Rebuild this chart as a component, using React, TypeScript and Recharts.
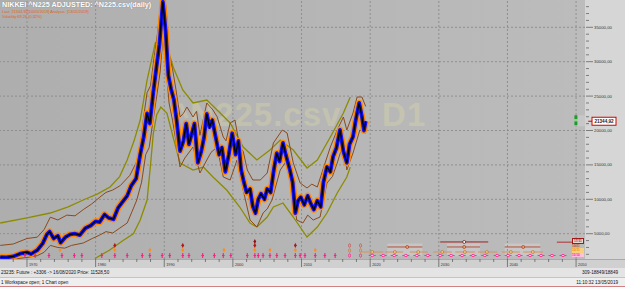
import { ComposedChart, Line, XAxis, YAxis, ReferenceLine, ReferenceDot, ReferenceArea } from 'recharts'

const FONT = '"Liberation Sans", Arial, sans-serif'
const PLOT_W = 585
const PLOT_H = 259
const X_DOMAIN: [number, number] = [1966.07, 2051.3]
const Y_DOMAIN: [number, number] = [1323, 38968]

// Nikkei close [year, value]
const PRICE: [number, number][] = [
  [1966.1, 1600], [1967.0, 1550], [1968.0, 1700], [1969.0, 2100], [1970.0, 2300], [1970.6, 2050],
  [1971.5, 2600], [1972.3, 3600], [1972.9, 4900], [1973.3, 5300], [1973.9, 4300], [1974.5, 4700],
  [1974.9, 3700], [1975.6, 4500], [1976.3, 4900], [1977.0, 5000], [1977.7, 4800], [1978.5, 5800],
  [1979.3, 6200], [1980.0, 6800], [1980.6, 6700], [1981.3, 7800], [1981.9, 7300], [1982.6, 7100],
  [1983.3, 8800], [1983.9, 9600], [1984.6, 10500], [1985.2, 12000], [1985.9, 13000], [1986.5, 16500],
  [1987.0, 19000], [1987.5, 22500], [1987.9, 21000], [1988.4, 25500], [1988.9, 29500], [1989.3, 32500],
  [1989.8, 38700], [1990.2, 34500], [1990.6, 28000], [1991.0, 26000], [1991.4, 24500], [1991.8, 21500],
  [1992.3, 17000], [1992.8, 18500], [1993.2, 21000], [1993.6, 18000], [1994.0, 19500], [1994.4, 21000],
  [1994.9, 15300], [1995.4, 17000], [1995.8, 19000], [1996.2, 22400], [1996.6, 20500], [1997.0, 21500],
  [1997.5, 19000], [1998.0, 16500], [1998.4, 17500], [1998.9, 14000], [1999.4, 16500], [1999.9, 19600],
  [2000.4, 16500], [2000.8, 18500], [2001.2, 14300], [2001.6, 12500], [2002.0, 11000], [2002.5, 11500],
  [2002.9, 9000], [2003.3, 8000], [2003.7, 10000], [2004.1, 10800], [2004.6, 10000], [2005.0, 11500],
  [2005.5, 11000], [2006.0, 14500], [2006.4, 16700], [2006.8, 15500], [2007.3, 18200], [2007.7, 16500],
  [2008.3, 14300], [2008.7, 12500], [2009.1, 8000], [2009.5, 9800], [2009.9, 10300], [2010.4, 9200],
  [2010.9, 10500], [2011.3, 9500], [2011.8, 8500], [2012.3, 9800], [2012.8, 8900], [2013.2, 12500],
  [2013.7, 14700], [2014.2, 14000], [2014.6, 16200], [2015.1, 17500], [2015.6, 20100], [2016.1, 17000],
  [2016.6, 15300], [2017.0, 18000], [2017.5, 19100], [2017.9, 21500], [2018.4, 24000], [2018.8, 22000],
  [2019.1, 20000], [2019.35, 21344],
]
const LAST_PRICE = 21344.92

const BROWN_UP: [number, number][] = [
  [1966.1, 3300], [1968.0, 3500], [1970.0, 4300], [1971.5, 4500], [1972.5, 5600], [1973.4, 7400],
  [1974.5, 7000], [1975.8, 7700], [1977.0, 7600], [1978.2, 8500], [1979.4, 9300], [1980.6, 10300],
  [1981.5, 11000], [1982.5, 11350], [1983.6, 12000], [1985.0, 13500], [1986.0, 15500], [1986.5, 17500],
  [1987.0, 22000], [1987.5, 25500], [1988.0, 26500], [1988.5, 30500], [1989.0, 34000], [1989.5, 38500],
  [1989.9, 40500], [1990.3, 37500], [1990.7, 31000], [1991.2, 29000], [1991.7, 26000], [1992.3, 21962],
  [1992.8, 22500], [1993.3, 23416], [1994.2, 21962], [1994.7, 22800], [1995.2, 19300], [1996.2, 23997],
  [1997.1, 22980], [1997.7, 22000], [1998.6, 19055], [1999.0, 18500], [1999.6, 21090], [2000.3, 21526],
  [2001.0, 17601], [2001.5, 17000], [2002.1, 14258], [2002.9, 12805], [2004.0, 12805], [2005.0, 13822],
  [2005.9, 18182], [2007.2, 20072], [2007.9, 19636], [2008.8, 15276], [2009.8, 12369], [2010.8, 11643],
  [2011.5, 12200], [2012.3, 11788], [2013.1, 14258], [2014.2, 17601], [2015.2, 20072], [2016.1, 21962],
  [2016.6, 20072], [2017.5, 22543], [2018.1, 24869], [2018.8, 24869], [2019.35, 23500],
]

const BROWN_LOW: [number, number][] = [
  [1966.1, 1250], [1968.0, 1300], [1970.0, 1550], [1971.5, 1800], [1972.5, 2300], [1973.4, 3300],
  [1974.5, 3000], [1975.5, 2900], [1976.5, 3300], [1978.2, 3648], [1979.5, 4300], [1980.6, 4800],
  [1981.5, 5300], [1982.5, 5102], [1983.5, 5800], [1984.6, 6555], [1985.3, 8200], [1986.0, 9898],
  [1986.7, 12500], [1987.3, 16500], [1987.8, 17500], [1988.3, 21000], [1988.9, 25000], [1989.4, 28500],
  [1989.8, 33500], [1990.2, 30000], [1990.7, 24000], [1991.2, 21500], [1991.7, 18500], [1992.3, 14694],
  [1993.0, 16000], [1994.2, 17601], [1995.2, 13822], [1996.2, 15712], [1996.8, 16800], [1997.7, 17601],
  [1998.6, 13241], [1999.6, 12805], [2000.6, 15712], [2001.5, 11352], [2002.5, 6991], [2003.5, 5974],
  [2004.4, 8008], [2005.0, 8600], [2005.7, 9898], [2006.9, 14258], [2007.9, 15712], [2008.8, 10916],
  [2009.3, 6991], [2010.2, 6555], [2010.9, 7700], [2011.7, 6991], [2012.7, 7427], [2013.7, 12369],
  [2014.5, 13300], [2015.2, 15276], [2016.1, 18182], [2016.6, 14258], [2017.5, 16729], [2018.5, 20072],
  [2019.35, 19636],
]

const OLIVE_UP: [number, number][] = [
  [1966.1, 6555], [1970.0, 7300], [1973.4, 8008], [1976.0, 8900], [1978.2, 9898], [1980.3, 10800],
  [1982.1, 11788], [1983.5, 13300], [1984.6, 15712], [1985.6, 18500], [1986.5, 21526], [1987.5, 27340],
  [1988.7, 32718], [1989.8, 33445], [1990.4, 32137], [1991.3, 29230], [1992.7, 25887], [1994.2, 23997],
  [1996.2, 24433], [1997.7, 22980], [1999.6, 21090], [2001.5, 17601], [2003.5, 15712], [2005.4, 17166],
  [2006.9, 18618], [2008.8, 17166], [2010.8, 14549], [2012.3, 15712], [2014.2, 19055], [2016.1, 22543],
  [2017.1, 24869],
]

const OLIVE_LOW: [number, number][] = [
  [1979.9, 1400], [1982.0, 2600], [1984.0, 4000], [1985.5, 5000], [1986.5, 7000], [1987.5, 9900],
  [1988.0, 15000], [1988.4, 19500], [1988.9, 22300], [1989.5, 23400], [1990.4, 22500], [1991.3, 19000],
  [1992.3, 15276], [1994.2, 14258], [1995.7, 14694], [1997.1, 13241], [1999.1, 11352], [2001.0, 8881],
  [2002.5, 6555], [2003.5, 5974], [2005.0, 7427], [2005.9, 8881], [2007.3, 9462], [2008.8, 7427],
  [2010.8, 4520], [2012.3, 5974], [2013.7, 8008], [2015.2, 10916], [2016.6, 13241], [2017.1, 14694],
]

// event markers along the bottom
const PINK_EVENTS = [
  1969.7, 1971.2, 1973.2, 1975.1, 1976.9, 1978.0, 1980.9, 1982.8, 1984.6, 1986.8, 1987.9, 1989.7,
  1990.8, 1992.7, 1993.6, 1995.6, 1997.3, 1998.6, 1999.7, 2002.1, 2003.2, 2003.7, 2004.4, 2005.4,
  2006.4, 2007.6, 2009.1, 2009.8, 2010.5, 2012.0, 2013.4, 2014.9,
]
const ORANGE_EVENTS = [1974.8, 1982.8, 1987.9, 1992.7, 1998.7, 2003.2, 2005.4, 2009.1, 2012.0]
const RED_EVENTS = [1982.8, 1992.7, 2003.2, 2009.1]
const RED_EVENTS_2 = [2003.2]
const HOLLOW_EVENTS = [2017.0, 2018.6]
const FUTURE_EVENTS = [
  2020.3, 2021.9, 2023.5, 2025.2, 2026.8, 2028.4, 2030.2, 2031.8, 2033.4, 2035.0, 2036.7, 2038.5,
  2040.1, 2041.7, 2043.3, 2044.9, 2046.5, 2048.1,
]
const PINK_ROW = 1830
const ORANGE_ROW = 2630
const RED_ROW = 3290
const RED_ROW_2 = 3870

// forecast ranges [start, end, centre]
const DARK_FORECAST: [number, number, number][] = [[2030.2, 2037.2, 2033.7]]
const BROWN_FORECAST: [number, number, number][] = [
  [2022.5, 2027.6, 2025.4], [2031.2, 2036.0, 2033.7], [2039.6, 2044.8, 2042.3],
]
const TAN_FORECAST: [number, number, number][] = [
  [2018.8, 2021.9, 2020.3], [2022.2, 2024.8, 2023.6], [2025.8, 2028.4, 2027.0], [2029.2, 2031.9, 2030.5],
  [2032.4, 2035.3, 2033.8], [2035.7, 2038.5, 2037.0], [2039.2, 2041.8, 2040.5], [2042.3, 2045.2, 2043.7],
]
const DARK_ROW = 3800
const BROWN_ROW = 3070
const TAN_ROW = 2340

const Y_GRID = [5000, 10000, 15000, 20000, 25000, 30000, 35000]
const Y_TICKS = [
  2000, 3000, 4000, 5000, 6000, 7000, 8000, 9000, 10000, 11000, 12000, 13000, 14000, 15000, 16000,
  17000, 18000, 19000, 20000, 21000, 22000, 23000, 24000, 25000, 26000, 27000, 28000, 29000, 30000,
  31000, 32000, 33000, 34000, 35000, 36000, 37000, 38000,
]
const DECADES = [1970, 1980, 1990, 2000, 2010, 2020, 2030, 2040, 2050]
const X_TICKS = [
  1968, 1970, 1972, 1974, 1976, 1978, 1980, 1982, 1984, 1986, 1988, 1990, 1992, 1994, 1996, 1998,
  2000, 2002, 2004, 2006, 2008, 2010, 2012, 2014, 2016, 2018, 2020, 2022, 2024, 2026, 2028, 2030,
  2032, 2034, 2036, 2038, 2040, 2042, 2044, 2046, 2048, 2050,
]

const toPts = (rows: [number, number][]) => rows.map(([x, v]) => ({ x, v }))
const fmt = (v: number) => `${v},00`

function XTick({ x, y, payload }: any) {
  const major = DECADES.includes(payload.value)
  return (
    <g>
      <line x1={x} x2={x} y1={y} y2={y + (major ? 8 : 3)} stroke="#555" strokeWidth={0.7} />
      {major && (
        <text x={x + 2} y={y + 7} fontSize={3.8} fill="#333" fontFamily={FONT}>
          {payload.value}
        </text>
      )}
    </g>
  )
}

function YTick({ x, y, payload }: any) {
  const major = payload.value % 5000 === 0
  return (
    <g>
      <line x1={x + 1} x2={x + (major ? 8 : 4)} y1={y} y2={y} stroke="#555" strokeWidth={0.7} />
      {major && (
        <text x={x + 9} y={y + 1.5} fontSize={4.3} fill="#333" fontFamily={FONT}>
          {fmt(payload.value)}
        </text>
      )}
    </g>
  )
}

function PinkMark({ cx, cy }: any) {
  return (
    <g stroke="#ff1a8c" strokeWidth={1.1}>
      <line x1={cx} x2={cx} y1={cy - 2.5} y2={cy + 2.5} />
      <line x1={cx - 1.3} x2={cx + 1.3} y1={cy} y2={cy} />
    </g>
  )
}

function DiamondMark({ cx, cy, col }: any) {
  return (
    <g>
      <path d={`M${cx},${cy - 2.6}L${cx + 1.3},${cy}L${cx},${cy + 2.6}L${cx - 1.3},${cy}Z`} fill={col} />
      <line x1={cx - 1.2} x2={cx + 1.2} y1={cy} y2={cy} stroke={col} strokeWidth={0.8} />
    </g>
  )
}

function FutureMark({ cx, cy }: any) {
  return (
    <g stroke="#ff1a8c" strokeWidth={0.8}>
      <line x1={cx - 3.5} x2={cx + 3.5} y1={cy} y2={cy} />
      <ellipse cx={cx} cy={cy} rx={1.6} ry={1.1} fill="#ffd0e8" />
    </g>
  )
}

function HollowMark({ cx, cy }: any) {
  return (
    <g fill="none" strokeWidth={0.7}>
      <ellipse cx={cx} cy={cy} rx={1} ry={1.8} stroke="#ff1a8c" />
      <ellipse cx={cx} cy={cy - 5} rx={1} ry={1.8} stroke="#e0701e" />
      <ellipse cx={cx} cy={cy - 10} rx={1} ry={1.8} stroke="#c0504d" />
    </g>
  )
}

function CircleMark({ cx, cy, edge, body }: any) {
  return <circle cx={cx} cy={cy} r={1.5} fill={body} stroke={edge} strokeWidth={0.7} />
}

function GreenMark({ cx, cy }: any) {
  return (
    <g>
      <rect x={cx - 1} y={cy - 6} width={14} height={11} fill="#cfcfcf" opacity={0.6} />
      <rect x={cx - 1} y={cy - 6} width={3} height={4} fill="#1f9a2a" />
      <rect x={cx - 1} y={cy} width={3} height={4} fill="#1f9a2a" />
      <rect x={cx - 1} y={cy - 2} width={3} height={2} fill="#8fd08f" />
    </g>
  )
}

function PriceTag({ viewBox }: any) {
  const x = viewBox.x + viewBox.width
  const y = viewBox.y
  return (
    <g>
      <line x1={x + 3} x2={x + 7} y1={y} y2={y} stroke="#d00000" strokeWidth={1} />
      <rect x={x + 7} y={y - 4} width={24} height={8} fill="#fff" stroke="#d00000" strokeWidth={1} />
      <text x={x + 19} y={y + 1.7} fontSize={4.6} fontWeight="bold" textAnchor="middle" fill="#222" fontFamily={FONT}>
        {LAST_PRICE.toFixed(2).replace('.', ',')}
      </text>
    </g>
  )
}

const noAnim = { isAnimationActive: false, dot: false, activeDot: false, type: 'linear' as const }

function NikkeiChart() {
  return (
    <ComposedChart width={625} height={268} margin={{ top: 0, right: 0, bottom: 0, left: 0 }}>
      <XAxis
        type="number"
        dataKey="x"
        domain={X_DOMAIN}
        allowDataOverflow
        ticks={X_TICKS}
        interval={0}
        height={9}
        tickSize={0}
        tickMargin={0}
        axisLine={false}
        tickLine={false}
        tick={<XTick />}
      />
      <YAxis
        orientation="right"
        domain={Y_DOMAIN}
        allowDataOverflow
        ticks={Y_TICKS}
        interval={0}
        width={40}
        tickSize={0}
        tickMargin={0}
        axisLine={false}
        tickLine={false}
        tick={<YTick />}
      />
      {Y_GRID.map((v) => (
        <ReferenceLine key={`h${v}`} y={v} stroke="#858585" strokeWidth={0.8} strokeDasharray="2 2" />
      ))}
      {DECADES.map((d) => (
        <ReferenceLine key={`v${d}`} x={d} stroke="#858585" strokeWidth={0.8} strokeDasharray="2 2" />
      ))}

      {BROWN_FORECAST.map(([a, b], i) => (
        <ReferenceArea key={`ba${i}`} x1={a} x2={b} y1={TAN_ROW - 600} y2={BROWN_ROW + 500} fill="#d2d2d2" fillOpacity={0.55} stroke="none" />
      ))}

      <Line data={toPts(OLIVE_UP)} dataKey="v" stroke="#8c8c00" strokeWidth={1.3} {...noAnim} />
      <Line data={toPts(OLIVE_LOW)} dataKey="v" stroke="#8c8c00" strokeWidth={1.3} {...noAnim} />
      <Line data={toPts(BROWN_UP)} dataKey="v" stroke="#8b4a1c" strokeWidth={1} {...noAnim} />
      <Line data={toPts(BROWN_LOW)} dataKey="v" stroke="#8b4a1c" strokeWidth={1} {...noAnim} />
      <Line data={toPts(PRICE)} dataKey="v" stroke="#ff8a00" strokeWidth={6.5} strokeLinejoin="round" {...noAnim} />
      <Line data={toPts(PRICE)} dataKey="v" stroke="#1010ff" strokeWidth={3.8} strokeLinejoin="round" {...noAnim} />
      <Line data={toPts(PRICE)} dataKey="v" stroke="#000" strokeWidth={1.3} {...noAnim} />

      {DARK_FORECAST.map(([a, b, c], i) => (
        <g key={`d${i}`}>
          <ReferenceLine segment={[{ x: a, y: DARK_ROW }, { x: b, y: DARK_ROW }]} stroke="#a02020" strokeWidth={1} />
          <ReferenceDot x={c} y={DARK_ROW} shape={<CircleMark edge="#551111" body="#fff" />} />
        </g>
      ))}
      {BROWN_FORECAST.map(([a, b, c], i) => (
        <g key={`b${i}`}>
          <ReferenceLine segment={[{ x: a, y: BROWN_ROW }, { x: b, y: BROWN_ROW }]} stroke="#b8503a" strokeWidth={1} />
          <ReferenceDot x={c} y={BROWN_ROW} shape={<CircleMark edge="#a04020" body="#f0a070" />} />
        </g>
      ))}
      <ReferenceLine segment={[{ x: 2047.2, y: BROWN_ROW + 700 }, { x: 2049.8, y: BROWN_ROW + 700 }]} stroke="#b03030" strokeWidth={1} />
      {TAN_FORECAST.map(([a, b, c], i) => (
        <g key={`t${i}`}>
          <ReferenceLine segment={[{ x: a, y: TAN_ROW }, { x: b, y: TAN_ROW }]} stroke="#d4925a" strokeWidth={1} />
          <ReferenceDot x={c} y={TAN_ROW} shape={<CircleMark edge="#b87a3a" body="#f3c27a" />} />
        </g>
      ))}

      {PINK_EVENTS.map((x) => (
        <ReferenceDot key={`p${x}`} x={x} y={PINK_ROW} shape={<PinkMark />} />
      ))}
      {ORANGE_EVENTS.map((x) => (
        <ReferenceDot key={`o${x}`} x={x} y={ORANGE_ROW} shape={<DiamondMark col="#ff8c1a" />} />
      ))}
      {RED_EVENTS.map((x) => (
        <ReferenceDot key={`r${x}`} x={x} y={RED_ROW} shape={<DiamondMark col="#b01818" />} />
      ))}
      {RED_EVENTS_2.map((x) => (
        <ReferenceDot key={`r2${x}`} x={x} y={RED_ROW_2} shape={<DiamondMark col="#901010" />} />
      ))}
      {HOLLOW_EVENTS.map((x) => (
        <ReferenceDot key={`h${x}`} x={x} y={PINK_ROW} shape={<HollowMark />} />
      ))}
      {FUTURE_EVENTS.map((x) => (
        <ReferenceDot key={`f${x}`} x={x} y={PINK_ROW} shape={<FutureMark />} />
      ))}

      <ReferenceDot x={2049.9} y={LAST_PRICE} shape={<GreenMark />} />
      <ReferenceLine y={LAST_PRICE} stroke="none" label={(p: any) => <PriceTag viewBox={p.viewBox} />} />
    </ComposedChart>
  )
}

export default function App() {
  const abs = (s: any) => ({ position: 'absolute' as const, ...s })
  return (
    <div style={abs({ left: 0, top: 0, width: 625, height: 287, overflow: 'hidden', fontFamily: FONT, background: '#eee' })}>
      <div style={abs({ left: 0, top: 0, width: PLOT_W, height: PLOT_H, background: 'linear-gradient(to right, #aeaeae, #bcbcbc)' })} />
      <div style={abs({ left: PLOT_W, top: 0, width: 40, height: PLOT_H, background: '#d6d6d6' })} />
      <div style={abs({ left: 0, top: PLOT_H, width: 625, height: 9, background: '#d0d0d0', borderTop: '1px solid #a8a8a8', boxSizing: 'border-box' })} />
      <div style={abs({ left: 170, top: 96, fontSize: 33, fontWeight: 'bold', color: 'rgba(232,226,160,0.3)', whiteSpace: 'pre', letterSpacing: 1 })}>
        {'^N225.csv    D1'}
      </div>
      <div style={abs({ left: 0, top: 0 })}>
        <NikkeiChart />
      </div>
      <div style={abs({ left: 2, top: 0, fontSize: 7.2, fontWeight: 'bold', color: '#fff', textShadow: '0 0 1px #777', whiteSpace: 'pre' })}>
        NIKKEI ^N225 ADJUSTED: ^N225.csv(daily)
      </div>
      <div style={abs({ left: 2, top: 10, fontSize: 3.9, color: '#e2601a', whiteSpace: 'pre', lineHeight: '4.8px' })}>
        {'Last: 21344,92[10/05/2019] Analysis: [13/05/2019]\nVolatility:69,26 (0,32%)'}
      </div>
      <div style={abs({ left: 572, top: 238, fontSize: 3.2, lineHeight: '4.2px', whiteSpace: 'pre', fontWeight: 'bold' })}>
        <div style={{ color: '#a01818', border: '0.6px solid #a01818', padding: '0 1px', background: '#e8d8d8' }}>17/11</div>
        <div style={{ color: '#c05030' }}>10/11</div>
        <div style={{ color: '#f08a20', background: '#f7d080' }}>10/11</div>
        <div style={{ color: '#ff1a8c', background: '#ffc0e0' }}>11/10</div>
      </div>
      <div style={abs({ left: 0, top: 268, width: 625, height: 10, background: '#e4e4e4', borderBottom: '1px solid #c4c4c4', boxSizing: 'border-box' })}>
        <span style={abs({ left: 1, top: 1.5, fontSize: 4.6, color: '#111', whiteSpace: 'pre' })}>
          23235: Future : +3306 -&gt; 16/08/2020 Price: 11528,50
        </span>
        <span style={abs({ right: 7, top: 1.5, fontSize: 4.6, color: '#111', whiteSpace: 'pre' })}>309-18849/18849</span>
      </div>
      <div style={abs({ left: 0, top: 278, width: 625, height: 9, background: '#efefef', borderBottom: '1px solid #d08080', boxSizing: 'border-box' })}>
        <span style={abs({ left: 1, top: 1.5, fontSize: 4.6, color: '#111', whiteSpace: 'pre' })}>1 Workspace open; 1 Chart open</span>
        <span style={abs({ right: 7, top: 1.5, fontSize: 4.6, color: '#111', whiteSpace: 'pre' })}>11:10:32 13/05/2019</span>
      </div>
    </div>
  )
}
